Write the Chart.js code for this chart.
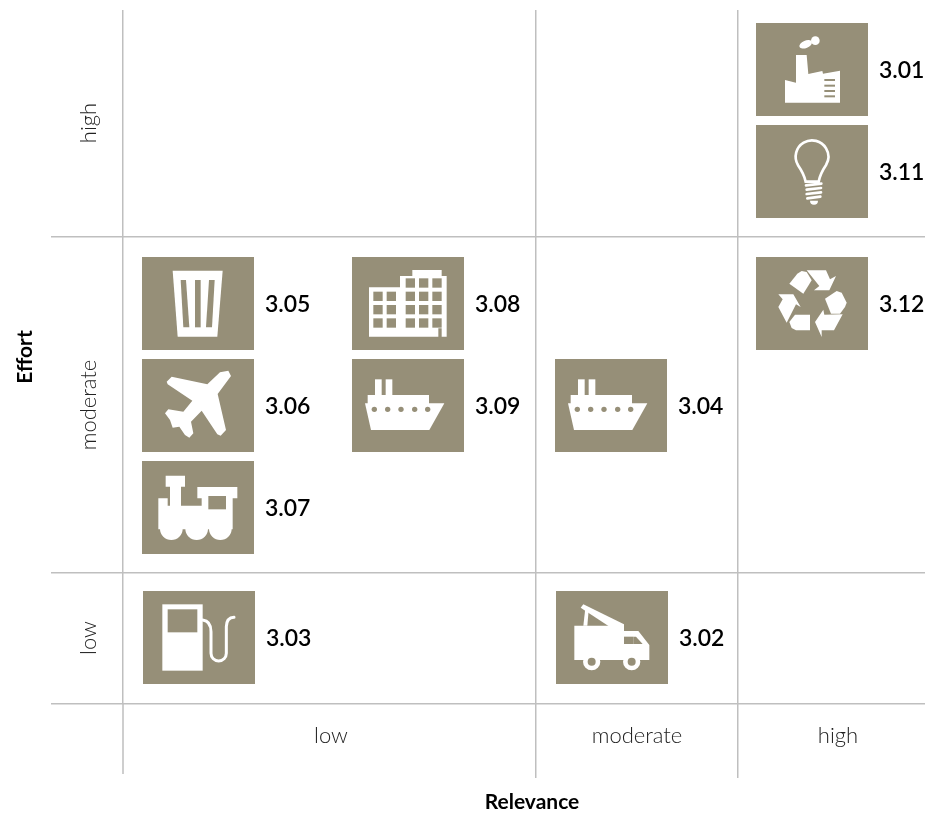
<!DOCTYPE html>
<html><head><meta charset="utf-8">
<style>html,body{margin:0;padding:0;background:#fff;overflow:hidden}canvas{display:block}</style>
<script src="https://cdn.jsdelivr.net/npm/chart.js@4"></script></head>
<body><canvas id="c" width="925" height="814"></canvas>
<script>
const codes    = ['3.01','3.11','3.12','3.05','3.06','3.07','3.08','3.09','3.04','3.03','3.02'];
const relevance= [812,812,812,198,198,198,408,408,611,199,612];
const effort   = [69.5,171.5,303.5,303.5,405.5,507.5,303.5,405.5,405.5,637.5,637.5];
const iconNames= ['factory','bulb','recycle','trash','plane','train','building','ship','ship','pump','truck'];
const xRules   = [123,536,738];
const yRules   = [237,573,704];
const xCentres = [331,637,838];
const yCentres = [123,405,638];
const xLabels  = ['low','moderate','high'];
const yLabels  = ['high','moderate','low'];
const stubX    = [123,123];
const stubY    = [704,774];

const TILE='#968f78', RULE='#bfbfbf';
function poly(c,p,fill){c.fillStyle=fill||'#fff';c.beginPath();p.forEach((q,i)=>i?c.lineTo(q[0],q[1]):c.moveTo(q[0],q[1]));c.closePath();c.fill();}
function rect(c,x0,y0,x1,y1,fill){c.fillStyle=fill||'#fff';c.fillRect(x0,y0,x1-x0,y1-y0);}
function disc(c,x,y,r,fill){c.fillStyle=fill||'#fff';c.beginPath();c.arc(x,y,r,0,Math.PI*2);c.fill();}
// each painter works in 3x-zoomed units, with its own origin
const painters={
 factory:[48,39,c=>{
  poly(c,[[135,210],[168,218],[168,135],[200,135],[205,192],[247,183],[249,191],[300,182],[300,278],[135,278]]);
  [210,227,243,259].forEach(y=>rect(c,253,y-3,285,y+3,TILE));
  c.fillStyle='#fff';c.beginPath();c.ellipse(197,103,20,11,-.4,0,7);c.fill();disc(c,226,92,13);
 }],
 bulb:[48,345,c=>{
  c.strokeStyle='#fff';c.lineWidth=8;c.lineCap='round';c.beginPath();
  c.arc(216,440,49,Math.PI*.83,Math.PI*.17,false);
  c.quadraticCurveTo(240,492,236,515);c.lineTo(197,515);c.quadraticCurveTo(192,492,174,466);c.stroke();
  [[195,247,524],[197,246,537],[197,246,550],[199,244,563]].forEach(s=>{c.lineWidth=8;c.beginPath();c.moveTo(s[0]+3,s[2]+2);c.lineTo(s[1]-3,s[2]-3);c.stroke();});
  c.fillStyle='#fff';c.beginPath();c.arc(222,572,12,0,Math.PI);c.closePath();c.fill();
 }],
 recycle:[-42,-15,c=>{
  poly(c,[[58,65],[82,35],[95,27],[110,30],[125,55],[100,95]]);
  poly(c,[[110,25],[168,25],[180,52],[198,42],[178,85],[132,85],[148,72]]);
  poly(c,[[165,110],[200,87],[215,92],[230,122],[225,135],[210,155],[183,155]]);
  poly(c,[[218,157],[192,205],[155,205],[155,225],[135,180],[160,143],[163,158]]);
  poly(c,[[75,158],[120,158],[120,205],[78,205],[65,198],[58,180]]);
  poly(c,[[25,97],[70,97],[92,135],[78,127],[50,182],[25,135],[38,112]]);
 }],
 trash:[36,21,c=>{
  poly(c,[[128,62],[278,62],[262,260],[143,260]]);
  poly(c,[[152,90],[168,90],[178,232],[160,232]],TILE);
  poly(c,[[195,90],[212,90],[212,232],[195,232]],TILE);
  poly(c,[[237,90],[254,90],[246,232],[228,232]],TILE);
 }],
 plane:[36,327,c=>{
  poly(c,[[110,395],[125,380],[232,403],[270,367],[295,362],[303,378],[263,432],[288,540],[272,557],[262,553],[215,482],[183,515],[190,550],[178,563],[165,555],[148,530],[128,533],[120,510],[105,490],[115,478],[160,485],[187,452],[113,403]]);
 }],
 train:[36,633,c=>{
  poly(c,[[107,677],[165,677],[165,710],[153,710],[153,767],[215,767],[215,745],[202,745],[202,711],[322,711],[322,745],[308,745],[308,838],[85,838],[85,745],[113,745],[113,767],[120,767],[120,710],[107,710]]);
  rect(c,235,738,288,778,TILE);
  [124,200,271].forEach(x=>{c.fillStyle='#fff';c.beginPath();c.arc(x,836,34,0,Math.PI);c.fill();});
 }],
 building:[21,21,c=>{
  poly(c,[[72,112],[165,112],[165,78],[202,78],[202,60],[290,60],[290,78],[305,78],[305,260],[290,260],[290,235],[280,235],[280,260],[72,260]]);
  [85,125].forEach(x=>[125,165,205].forEach(y=>rect(c,x,y,x+28,y+28,TILE)));
  [182,222,262].forEach(x=>[85,125,165,205].forEach(y=>rect(c,x,y,x+28,y+28,TILE)));
 }],
 ship:[21,327,c=>{
  rect(c,90,388,110,437);rect(c,122,388,142,437);rect(c,68,435,252,462);
  poly(c,[[60,460],[298,460],[253,540],[78,540]]);
  [88,128,168,209,248].forEach(x=>disc(c,x,478,8,TILE));
 }],
 pump:[39,18,c=>{
  rect(c,97,58,218,257);rect(c,113,73,202,142,TILE);
  c.strokeStyle='#fff';c.lineWidth=9;c.lineCap='round';c.beginPath();c.moveTo(218,105);
  c.quadraticCurveTo(243,108,243,140);c.lineTo(243,205);c.arc(266,205,23,Math.PI,0,true);c.lineTo(289,125);c.quadraticCurveTo(290,98,312,97);c.stroke();
 }],
 truck:[18,18,c=>{
  poly(c,[[73,122],[222,122],[222,138],[265,138],[298,180],[298,225],[73,225]]);
  rect(c,222,155,250,177,TILE);poly(c,[[250,155],[258,155],[278,177],[250,177]],TILE);
  poly(c,[[92,68],[100,58],[222,118],[222,126],[180,126]]);
  poly(c,[[100,122],[106,70],[116,76],[112,122]]);
  [125,245].forEach(x=>{disc(c,x,230,26);disc(c,x,230,12,TILE);});
 }]
};
const cache={};
function tileFor(name){
 if(cache[name])return cache[name];
 const cv=document.createElement('canvas');cv.width=112;cv.height=93;
 const c=cv.getContext('2d');c.fillStyle=TILE;c.fillRect(0,0,112,93);
 const [ox,oy,fn]=painters[name];c.scale(1/3,1/3);c.translate(-ox,-oy);fn(c);
 return cache[name]=cv;
}
const codeLabels={id:'codeLabels',afterDatasetsDraw(ch){
 const m=ch.getDatasetMeta(0),c=ch.ctx;c.save();
 c.fillStyle='#000';c.font='600 23px Lato';c.textAlign='left';c.textBaseline='middle';
 m.data.forEach((p,i)=>c.fillText(codes[i],p.x+67,p.y+1));c.restore();
}};
const nudgeTitle={id:'nudgeTitle',afterLayout(ch){ch.scales.x.right+=16;}};
const tickFont={family:'Lato',size:22,weight:'300'};
const titleFont={family:'Lato',size:21,weight:'bold'};
function ruleColor(list){return ctx=>list.includes(ctx.tick.value)?RULE:'rgba(0,0,0,0)';}
function labelFor(vals,labs){return v=>{const i=vals.indexOf(v);return i<0?'':labs[i];};}
function noPad(s){s.paddingLeft=s.paddingRight=s.paddingTop=s.paddingBottom=0;}
new Chart(document.getElementById('c'),{
 type:'scatter',
 data:{datasets:[
  {data:relevance.map((x,i)=>({x,y:effort[i]})),pointStyle:ctx=>tileFor(iconNames[ctx.dataIndex]||'ship'),pointRadius:30,pointHoverRadius:30,clip:false},
  {data:stubX.map((x,i)=>({x,y:stubY[i]})),showLine:true,borderColor:RULE,borderWidth:1.5,pointRadius:0,clip:false}
 ]},
 options:{
  responsive:false,animation:false,devicePixelRatio:1,
  layout:{autoPadding:false,padding:{top:10,left:0,right:0,bottom:0}},
  plugins:{legend:{display:false},tooltip:{enabled:false}},
  events:[],
  scales:{
   x:{type:'linear',min:123,max:925,position:'bottom',
    afterFit:s=>{s.height=110;noPad(s);},
    afterBuildTicks:s=>{s.ticks=[...xRules,...xCentres].sort((a,b)=>a-b).map(value=>({value}));},
    border:{display:false},
    grid:{color:ruleColor(xRules),tickColor:ruleColor(xRules.slice(1)),lineWidth:1.5,tickWidth:1.5,tickLength:74},
    ticks:{autoSkip:false,maxRotation:0,minRotation:0,padding:-55,color:'#222',font:tickFont,callback:labelFor(xCentres,xLabels)},
    title:{display:true,text:'Relevance',color:'#000',font:titleFont,padding:{top:0,bottom:-1}}
   },
   y:{type:'linear',min:10,max:704,reverse:true,position:'left',
    afterFit:s=>{s.width=123;noPad(s);},
    afterBuildTicks:s=>{s.ticks=[...yRules,...yCentres].sort((a,b)=>a-b).map(value=>({value}));},
    border:{display:false},
    grid:{color:ruleColor(yRules),tickColor:ruleColor(yRules),lineWidth:1.5,tickWidth:1.5,tickLength:72},
    ticks:{autoSkip:false,minRotation:90,maxRotation:90,crossAlign:'center',padding:-83,color:'#222',font:tickFont,callback:labelFor(yCentres,yLabels)},
    title:{display:true,text:'Effort',color:'#000',font:titleFont,padding:{top:13,bottom:0}}
   }
  }
 },
 plugins:[codeLabels,nudgeTitle]
});
</script></body></html>
